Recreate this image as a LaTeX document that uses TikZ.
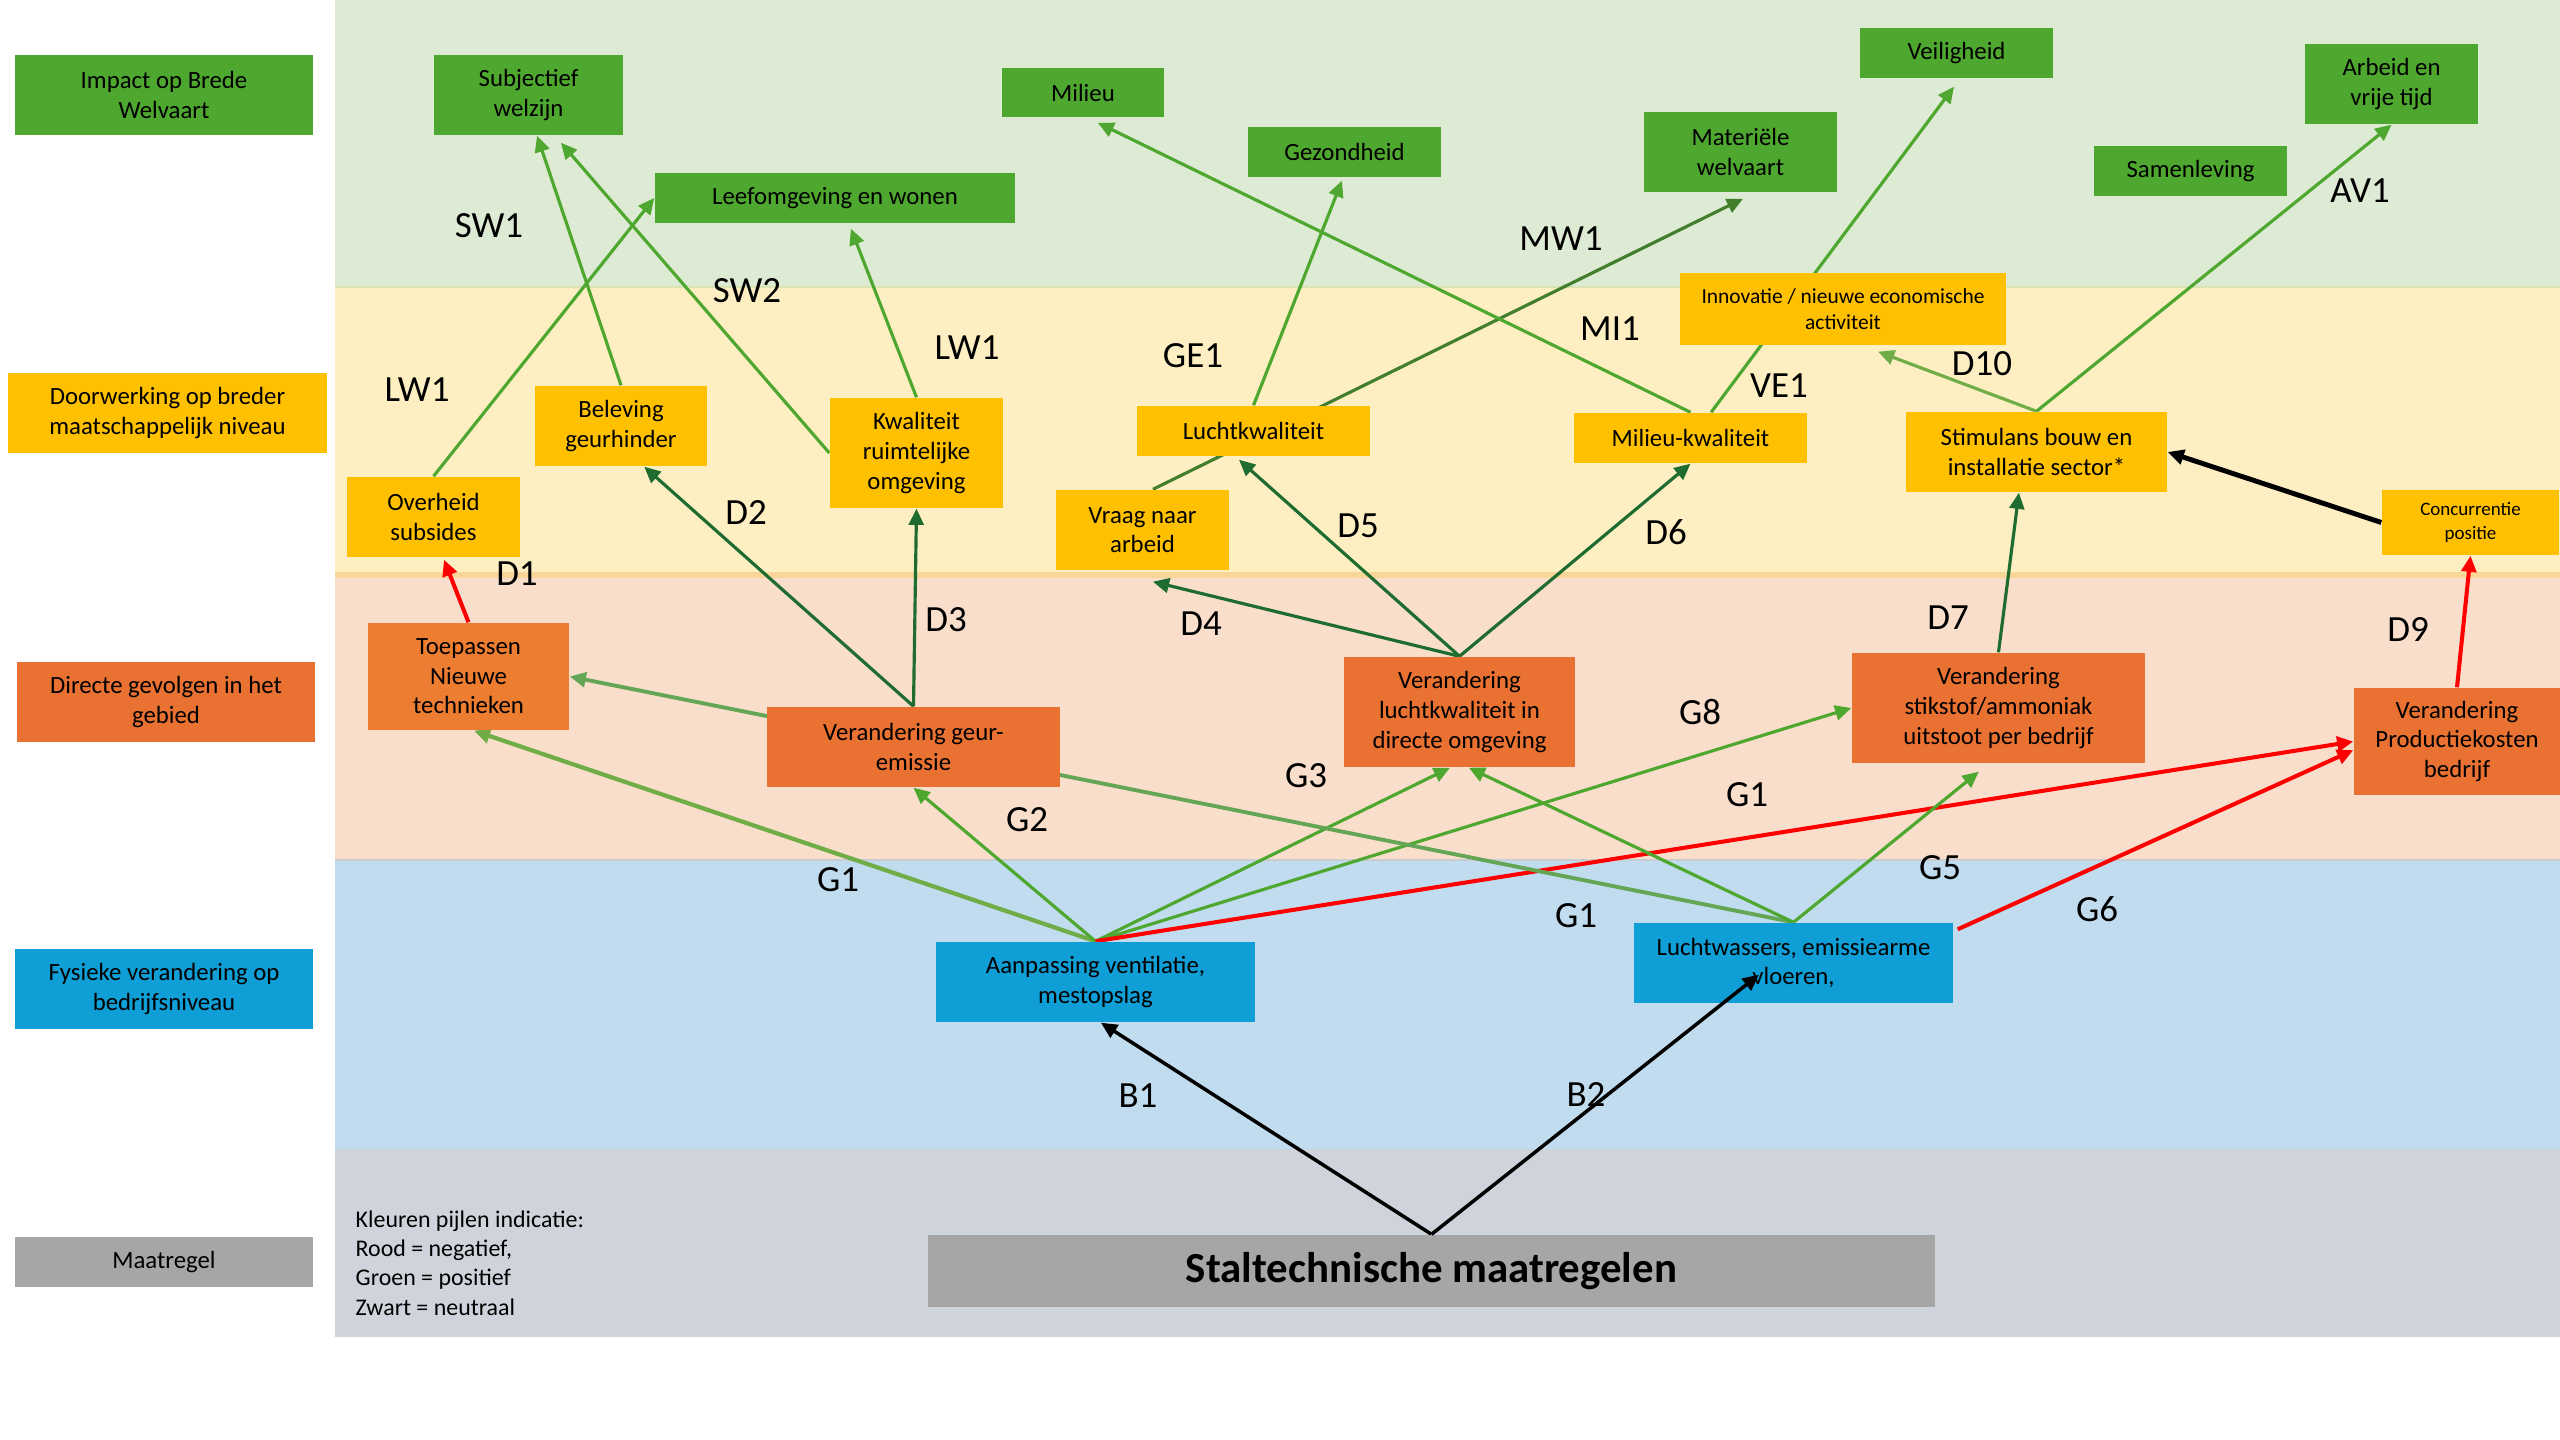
\documentclass[tikz,border=0pt]{standalone}
\usepackage{fontspec}
\setmainfont{Carlito}
\usetikzlibrary{arrows.meta,calc}
\pgfdeclarelayer{bands}
\pgfdeclarelayer{edges}
\pgfsetlayers{bands,edges,main}

% band colours
\definecolor{bandG}{HTML}{DDEAD4}
\definecolor{bandY}{HTML}{FEEFC3}
\definecolor{bandO}{HTML}{F8DECB}
\definecolor{bandB}{HTML}{C0DCEE}
\definecolor{bandS}{HTML}{CFD4DC}
\definecolor{edgeG}{HTML}{DCE4B4}
\definecolor{edgeY}{HTML}{FAD598}
\definecolor{edgeB}{HTML}{C9CDD2}
% box colours
\definecolor{boxG}{HTML}{4EA72E}
\definecolor{boxY}{HTML}{FFC000}
\definecolor{boxO}{HTML}{E97132}
\definecolor{boxOl}{HTML}{ED7D31}
\definecolor{boxB}{HTML}{0F9ED5}
\definecolor{boxS}{HTML}{A6A6A6}
% arrow colours
\definecolor{arG}{HTML}{4EA72E}
\definecolor{arLG}{HTML}{70AD47}
\definecolor{arMG}{HTML}{64A655}
\definecolor{arDG}{HTML}{1E6C2F}
\definecolor{arMW}{HTML}{427F2C}
\definecolor{arR}{HTML}{FF0000}

% box given by its corners in pixel units
\newcommand{\placebox}[7]{%
  \node[#6, minimum width={(#4-#2)*0.01cm}, minimum height={(#5-#3)*0.01cm}]
    (#1) at ({(#2+#4)/2},{(#3+#5)/2}) {#7};}

\begin{document}
\begin{tikzpicture}[x=0.01cm,y=-0.01cm,
  box/.style={inner sep=0pt, align=center, text=black,
    font=\fontsize{7.05}{8.4}\selectfont},
  gbox/.style={box, fill=boxG},
  ybox/.style={box, fill=boxY},
  obox/.style={box, fill=boxO},
  bbox/.style={box, fill=boxB},
  sbox/.style={box, fill=boxS},
  lbl/.style={inner sep=0pt, text=black, font=\fontsize{10.5}{12}\selectfont},
  arr/.style={-{Triangle[length=4.6pt,width=4.2pt]}, line width=0.9pt},
  grn/.style={arr, draw=arG},
  lgrn/.style={arr, draw=arLG},
  dgrn/.style={arr, draw=arDG},
  rd/.style={arr, draw=arR, line width=1.15pt},
  bk/.style={arr, draw=black, line width=1pt}]

\useasboundingbox (0,0) rectangle (2560,1440);

% horizontal bands
\begin{pgfonlayer}{bands}
  \fill[bandG] (335,0) rectangle (2560,287);
  \fill[bandY] (335,287) rectangle (2560,574);
  \fill[bandO] (335,574) rectangle (2560,860);
  \fill[bandB] (335,860) rectangle (2560,1149);
  \fill[bandS] (335,1149) rectangle (2560,1337);
  \draw[edgeG, line width=0.6pt] (335,287) -- (2560,287);
  \fill[edgeY] (335,572) rectangle (2560,578);
  \draw[edgeB, line width=0.5pt] (335,860) -- (2560,860);
\end{pgfonlayer}

% level captions
\placebox{iob}{15}{55}{313}{135}{gbox}{Impact op Brede\\Welvaart}
\placebox{dob}{8}{373}{327}{453}{ybox}{Doorwerking op breder\\maatschappelijk niveau}
\placebox{dgg}{17}{662}{315}{742}{obox}{Directe gevolgen in het\\gebied}
\placebox{fvb}{15}{949}{313}{1029}{bbox}{Fysieke verandering op\\bedrijfsniveau}
\placebox{mtr}{15}{1237}{313}{1287}{sbox}{Maatregel}

% impact on broad welfare
\placebox{sw}{434}{55}{623}{135}{gbox}{Subjectief\\welzijn}
\placebox{lw}{655}{173}{1015}{223}{gbox}{Leefomgeving en wonen}
\placebox{mil}{1002}{68}{1164}{117}{gbox}{Milieu}
\placebox{gez}{1248}{127}{1441}{177}{gbox}{Gezondheid}
\placebox{mat}{1644}{112}{1837}{192}{gbox}{Materiële\\welvaart}
\placebox{vei}{1860}{28}{2053}{78}{gbox}{Veiligheid}
\placebox{sam}{2094}{146}{2287}{196}{gbox}{Samenleving}
\placebox{arb}{2305}{44}{2478}{124}{gbox}{Arbeid en\\vrije tijd}

% wider societal effects
\placebox{ovs}{347}{477}{520}{557}{ybox}{Overheid\\subsides}
\placebox{bel}{535}{386}{707}{466}{ybox}{Beleving\\geurhinder}
\placebox{kwr}{830}{398}{1003}{508}{ybox}{Kwaliteit\\ruimtelijke\\omgeving}
\placebox{vna}{1056}{490}{1229}{570}{ybox}{Vraag naar\\arbeid}
\placebox{lk}{1137}{406}{1370}{456}{ybox}{Luchtkwaliteit}
\placebox{mk}{1574}{413}{1807}{463}{ybox}{Milieu-kwaliteit}
\placebox{inn}{1680}{273}{2006}{345}{ybox, font=\fontsize{6.1}{7.4}\selectfont}{Innovatie / nieuwe economische\\activiteit}
\placebox{sti}{1906}{412}{2167}{492}{ybox}{Stimulans bouw en\\installatie sector*}
\placebox{con}{2382}{490}{2559}{555}{ybox, font=\fontsize{5.4}{6.6}\selectfont}{Concurrentie\\positie}

% direct effects in the area
\placebox{toe}{368}{623}{569}{730}{box, fill=boxOl}{Toepassen\\Nieuwe\\technieken}
\placebox{geu}{767}{707}{1060}{787}{obox}{Verandering geur-\\emissie}
\placebox{vlo}{1344}{657}{1575}{767}{obox}{Verandering\\luchtkwaliteit in\\directe omgeving}
\placebox{vst}{1852}{653}{2145}{763}{obox}{Verandering\\stikstof/ammoniak\\uitstoot per bedrijf}
\placebox{vpk}{2354}{688}{2560}{795}{obox}{Verandering\\Productiekosten\\bedrijf}

% physical changes at farm level
\placebox{aan}{936}{942}{1255}{1022}{bbox}{Aanpassing ventilatie,\\mestopslag}
\placebox{lwa}{1634}{923}{1953}{1003}{bbox}{Luchtwassers, emissiearme\\vloeren,}

% measure
\placebox{stal}{928}{1235}{1935}{1307}{sbox, font=\bfseries\fontsize{12.2}{14}\selectfont}{Staltechnische maatregelen}
\node[anchor=west, align=left, inner sep=0pt, font=\fontsize{6.8}{8.3}\selectfont]
  (legend) at (355,1263) {Kleuren pijlen indicatie:\\Rood = negatief,\\Groen = positief\\Zwart = neutraal};

% connectors
\begin{pgfonlayer}{edges}
  % towards broad welfare
  \draw[grn] (ovs.north) -- (lw.west);
  \draw[grn] (bel.north) -- ($(sw.south west)!0.545!(sw.south east)$);
  \draw[grn] (kwr.west) -- ($(sw.south west)!0.67!(sw.south east)+(0,7)$);
  \draw[grn] (kwr.north) -- ($(lw.south west)!0.544!(lw.south east)+(0,5)$);
  \draw[grn] (lk.north) -- ($(gez.south west)!0.487!(gez.south east)+(0,3)$);
  \draw[arr, draw=arMW] ($(vna.north west)!0.56!(vna.north east)$) -- ($(mat.south west)!0.513!(mat.south east)+(0,6)$);
  \draw[grn] (mk.north) -- ($(mil.south west)!0.59!(mil.south east)+(0,5)$);
  \draw[grn] ($(mk.north west)!0.588!(mk.north east)$) -- ($(vei.south west)!0.487!(vei.south east)+(0,8)$);
  \draw[lgrn] (sti.north) -- ($(inn.south west)!0.607!(inn.south east)+(0,6)$);
  \draw[grn] (sti.north) -- (arb.south);
  \draw[bk, line width=1.4pt] (con.west) -- (sti.east);
  % towards wider societal effects
  \draw[rd] (toe.north) -- ($(ovs.south west)!0.56!(ovs.south east)+(0,2)$);
  \draw[dgrn] (geu.north) -- ($(bel.south west)!0.634!(bel.south east)$);
  \draw[dgrn] (geu.north) -- (kwr.south);
  \draw[dgrn] (vlo.north) -- ($(vna.south west)!0.56!(vna.south east)+(0,11)$);
  \draw[dgrn] (vlo.north) -- ($(lk.south west)!0.438!(lk.south east)+(0,3)$);
  \draw[dgrn] (vlo.north) -- (mk.south);
  \draw[dgrn] (vst.north) -- ($(sti.south west)!0.433!(sti.south east)$);
  \draw[rd] (vpk.north) -- (con.south);
  % towards direct effects
  \draw[lgrn, line width=1.2pt] (aan.north) -- ($(toe.south west)!0.527!(toe.south east)$);
  \draw[grn] (aan.north) -- (geu.south);
  \draw[grn] (aan.north) -- ($(vlo.south west)!0.459!(vlo.south east)$);
  \draw[grn] (aan.north) -- (vst.west);
  \draw[rd] (aan.north) -- (vpk.west);
  \draw[arr, draw=arMG, line width=1.1pt] (lwa.north) -- (toe.east);
  \draw[grn] (lwa.north) -- ($(vlo.south west)!0.54!(vlo.south east)$);
  \draw[grn] (lwa.north) -- ($(vst.south west)!0.433!(vst.south east)+(0,8)$);
  \draw[rd] ($(lwa.north east)+(4,7)$) -- ($(vpk.north west)!0.58!(vpk.south west)$);
  % from the measure
  \draw[bk] (stal.north) -- ($(aan.south west)!0.517!(aan.south east)$);
\end{pgfonlayer}
\draw[bk] (stal.north) -- ($(lwa.south west)!0.392!(lwa.south east)+(0,-29)$);

% connector codes
\node[lbl] (tLW1a) at (417,390) {LW1};
\node[lbl] (tSW1) at (489,226) {SW1};
\node[lbl] (tSW2) at (747,291) {SW2};
\node[lbl] (tLW1b) at (967,348) {LW1};
\node[lbl] (tD2) at (746,513) {D2};
\node[lbl] (tD3) at (946,620) {D3};
\node[lbl] (tD1) at (517,574) {D1};
\node[lbl] (tGE1) at (1193,356) {GE1};
\node[lbl] (tMW1) at (1561,239) {MW1};
\node[lbl] (tMI1) at (1610,329) {MI1};
\node[lbl] (tVE1) at (1779,386) {VE1};
\node[lbl] (tD10) at (1982,364) {D10};
\node[lbl] (tAV1) at (2360,191) {AV1};
\node[lbl] (tD5) at (1358,526) {D5};
\node[lbl] (tD6) at (1666,532) {D6};
\node[lbl] (tD4) at (1201,624) {D4};
\node[lbl] (tD7) at (1948,618) {D7};
\node[lbl] (tD9) at (2408,630) {D9};
\node[lbl] (tG8) at (1700,712) {G8};
\node[lbl] (tG3) at (1306,776) {G3};
\node[lbl] (tG2) at (1027,820) {G2};
\node[lbl] (tG1a) at (838,880) {G1};
\node[lbl] (tG1b) at (1747,795) {G1};
\node[lbl] (tG1c) at (1576,916) {G1};
\node[lbl] (tG5) at (1940,868) {G5};
\node[lbl] (tG6) at (2097,909) {G6};
\node[lbl] (tB1) at (1138,1096) {B1};
\node[lbl] (tB2) at (1586,1095) {B2};

\end{tikzpicture}
\end{document}
